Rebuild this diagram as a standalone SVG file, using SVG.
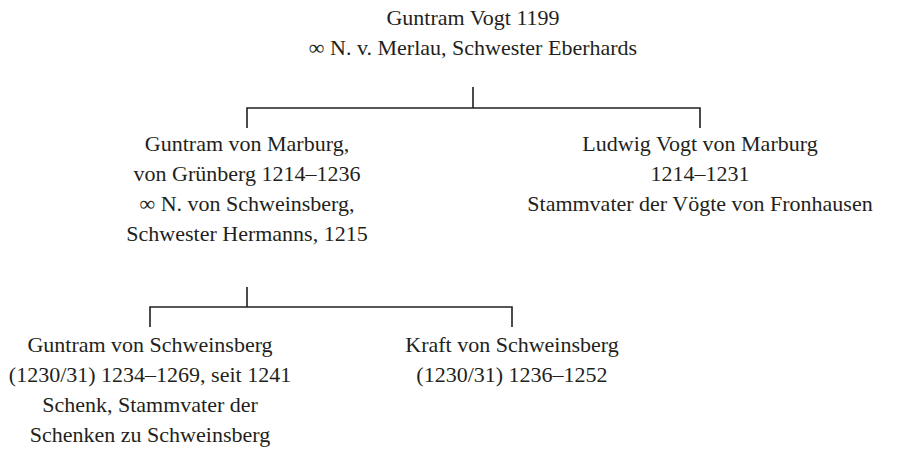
<svg xmlns="http://www.w3.org/2000/svg" width="917" height="461" viewBox="0 0 917 461">
<style>
text{font-family:"Liberation Serif","DejaVu Serif",serif;font-size:22px;fill:#231f20;text-anchor:middle}
.c{stroke:#231f20;stroke-width:1.6;fill:none}
</style>
<rect width="917" height="461" fill="#fff"/>
<g id="connectors">
<path class="c" d="M473,87V108M247,128V108H700V128"/>
<path class="c" d="M247,287V307M150,327V307H512V327"/>
</g>
<g id="n1">
<text x="473" y="25">Guntram Vogt 1199</text>
<text x="473" y="55">∞ N. v. Merlau, Schwester Eberhards</text>
</g>
<g id="n2">
<text x="247" y="151">Guntram von Marburg,</text>
<text x="247" y="181">von Grünberg 1214–1236</text>
<text x="247" y="211">∞ N. von Schweinsberg,</text>
<text x="247" y="241">Schwester Hermanns, 1215</text>
</g>
<g id="n3">
<text x="700" y="151">Ludwig Vogt von Marburg</text>
<text x="700" y="181">1214–1231</text>
<text x="700" y="211">Stammvater der Vögte von Fronhausen</text>
</g>
<g id="n4">
<text x="150" y="352">Guntram von Schweinsberg</text>
<text x="150" y="382">(1230/31) 1234–1269, seit 1241</text>
<text x="150" y="412">Schenk, Stammvater der</text>
<text x="150" y="442">Schenken zu Schweinsberg</text>
</g>
<g id="n5">
<text x="512" y="352">Kraft von Schweinsberg</text>
<text x="512" y="382">(1230/31) 1236–1252</text>
</g>
</svg>
